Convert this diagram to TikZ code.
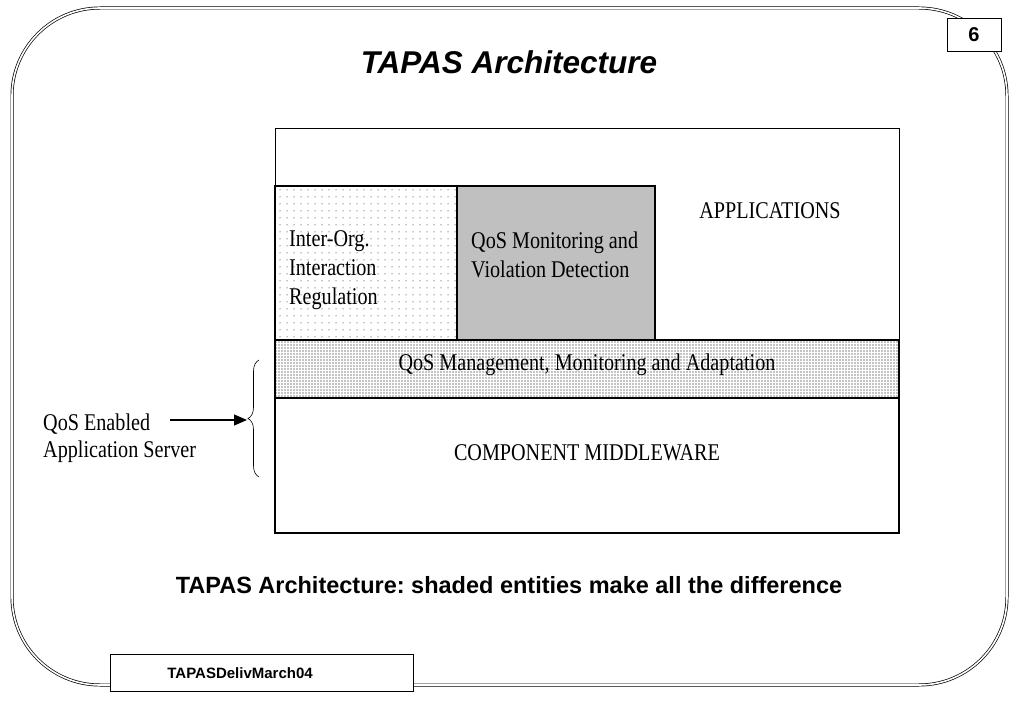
\documentclass[tikz,border=0pt]{standalone}
\usepackage{fontspec}
\setmainfont{Liberation Serif}
\setsansfont{Liberation Sans}
\newfontfamily\slide[FakeStretch=0.84]{Liberation Serif}
\usetikzlibrary{positioning,patterns,patterns.meta,decorations.pathreplacing,arrows.meta}
\definecolor{mongray}{RGB}{192,192,192}
\frenchspacing

\begin{document}
\begin{tikzpicture}[x=1pt,y=-1pt,
    layer/.style={draw,line width=1.6pt,inner sep=0pt,outer sep=0pt,anchor=north west},
    thinbox/.style={draw,line width=0.8pt,inner sep=0pt,outer sep=0pt,anchor=north west},
    serif/.style={inner sep=0pt,font=\slide\fontsize{24}{29}\selectfont},
    heading/.style={inner sep=0pt,font=\sffamily\bfseries\fontsize{#1}{#1}\selectfont}]
      \useasboundingbox (0,0) rectangle (1023,708);

      % slide frame
      \draw[double,double distance=1.6pt,line width=0.7pt,rounded corners=88pt] (12,8) rectangle (1007,685);
      \node[heading=20,draw,fill=white,line width=0.8pt,minimum width=54pt,minimum height=33pt] (pagenum) at (974,35) {6};
      \node[heading=15,draw,fill=white,line width=0.8pt,anchor=west,minimum height=37pt,inner xsep=57pt,
            text width=189pt,align=left] (deliv) at (110,673) {TAPASDelivMarch04};

      \node[heading=31,font=\sffamily\bfseries\itshape\fontsize{31.5}{32}\selectfont] (title) at (509,62) {TAPAS Architecture};

      % layers
      \node[thinbox,minimum width=624pt,minimum height=212pt] (apps) at (275,128) {};
      \node[layer,pattern={Dots[distance=7pt,radius=0.5pt]},minimum width=182pt,minimum height=154pt] (interorg) at (275,186) {};
      \node[layer,fill=mongray,minimum width=198pt,minimum height=154pt] (monitor) at (457,186) {};
      \node[layer,pattern={Dots[distance=3pt,radius=0.6pt]},minimum width=624pt,minimum height=58pt] (mgmt) at (275,340) {};
      \node[layer,minimum width=624pt,minimum height=135pt] (cm) at (275,398) {};

      \node[serif] (appstext) at (770,211) {APPLICATIONS};
      \node[serif,anchor=west,align=left] (interorgtext) at (289,270) {Inter-Org.\\Interaction\\Regulation};
      \node[serif,anchor=west,align=left] (monitortext) at (471,255) {QoS Monitoring and\\Violation Detection};
      \node[serif] (mgmttext) at (587,365) {QoS Management, Monitoring and Adaptation};
      \node[serif] (cmtext) at (587,453) {COMPONENT MIDDLEWARE};

      % application server
      \node[serif,anchor=west,align=left,font=\slide\fontsize{24}{27}\selectfont] (server) at (43,438) {QoS Enabled\\Application Server};
      \draw[line width=0.6pt,decorate,decoration={brace,amplitude=11pt}] (259,477) -- (259,360);
      \coordinate (arrowstart) at (170,420);
      \coordinate (bracetip) at (247,420);
      \draw[line width=1.1pt,-{Triangle[length=13pt,width=11pt]}] (arrowstart) -- (bracetip);

      \node[heading=23.5] (caption) at (509,585) {TAPAS Architecture: shaded entities make all the difference};
  \end{tikzpicture}
\end{document}
